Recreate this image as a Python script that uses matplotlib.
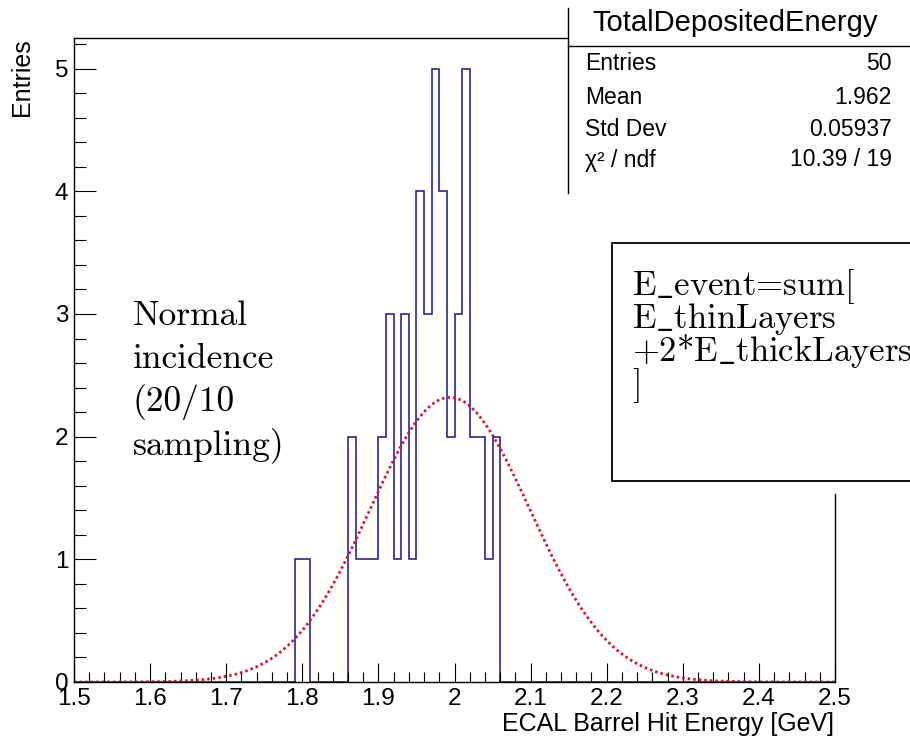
import numpy as np
import matplotlib
matplotlib.use("Agg")
import matplotlib.pyplot as plt
from matplotlib.patches import Rectangle
from matplotlib.lines import Line2D
from matplotlib.ticker import MultipleLocator, FuncFormatter

# histogram contents (bin low edge, entries); bins are 0.01 GeV wide, 1.5-2.5
bin_lo = [1.79, 1.80, 1.86, 1.87, 1.88, 1.89, 1.90, 1.91, 1.92, 1.93, 1.94,
          1.95, 1.96, 1.97, 1.98, 1.99, 2.00, 2.01, 2.02, 2.03, 2.04, 2.05]
counts = [1, 1, 2, 1, 1, 1, 2, 3, 1, 3, 1, 4, 3, 5, 4, 2, 3, 5, 2, 2, 1, 2]

# gaus fit parameters as drawn
fit_const = 2.32
fit_mean = 1.994
fit_sigma = 0.105

stats_labels = ["Entries", "Mean", "Std Dev", "\u03c7\u00b2 / ndf"]
stats_values = ["50", "1.962", "0.05937", "10.39 / 19"]

note_lines = ["Normal", "incidence", "(20/10", "sampling)"]
# "$\_$" so the underscore comes from mathtext (cmr10 has a dot accent there)
formula_lines = [r"E$\_$event=sum[", r"E$\_$thinLayers",
                 r"+2*E$\_$thickLayers", "]"]

W, H = 910, 740
sans = ["Liberation Sans", "DejaVu Sans"]
serif = ["cmr10", "DejaVu Serif"]
plt.rcParams["font.family"] = sans
plt.rcParams["axes.unicode_minus"] = False
plt.rcParams["mathtext.fontset"] = "cm"

def fx(px):
    return px / W

def fy(py):
    return 1 - py / H

fig = plt.figure(figsize=(W / 100, H / 100), dpi=100)
ax = fig.add_axes([fx(74), fy(682), fx(835) - fx(74), fy(38) - fy(682)])

edges = np.linspace(1.5, 2.5, 101)
h = np.zeros(100)
for lo, c in zip(bin_lo, counts):
    h[int(round((lo - 1.5) / 0.01))] = c
ax.stairs(h, edges, color="#15158c", lw=1.1)

xf = np.linspace(1.5, 2.5, 600)
yf = fit_const * np.exp(-0.5 * ((xf - fit_mean) / fit_sigma) ** 2)
ax.plot(xf, yf, color="#dd1126", lw=2.0, ls=(0, (0.9, 1.1)))

ax.set_xlim(1.5, 2.5)
ax.set_ylim(0, 5.25)
ax.xaxis.set_major_locator(MultipleLocator(0.1))
ax.xaxis.set_minor_locator(MultipleLocator(0.02))
ax.yaxis.set_major_locator(MultipleLocator(1))
ax.yaxis.set_minor_locator(MultipleLocator(0.2))
fmt = FuncFormatter(lambda v, p: "%g" % round(v, 3))
ax.xaxis.set_major_formatter(fmt)
ax.yaxis.set_major_formatter(fmt)
ax.tick_params(which="both", direction="in", top=False, right=False,
               width=0.8, color="black", labelsize=17.5)
ax.tick_params(axis="x", which="major", length=14, pad=4)
ax.tick_params(axis="x", which="minor", length=7)
ax.tick_params(axis="y", which="major", length=16, pad=4)
ax.tick_params(axis="y", which="minor", length=8.5)
for s in ax.spines.values():
    s.set_linewidth(1.0)
ax.spines["right"].set_bounds(0, 1.53)

fig.text(fx(834), fy(724), "ECAL Barrel Hit Energy [GeV]", ha="right",
         va="center", fontsize=18)
fig.text(fx(22), fy(38), "Entries", rotation=90, ha="center", va="top",
         fontsize=18)

# stats box
fig.add_artist(Rectangle((fx(567.7), fy(193)), fx(920) - fx(567.7),
                         fy(8) - fy(193), transform=fig.transFigure,
                         facecolor="white", edgecolor="none", zorder=5))
fig.add_artist(Line2D([fx(567.7), fx(567.7)], [fy(8), fy(193)],
                      transform=fig.transFigure, color="black", lw=1.0, zorder=6))
fig.add_artist(Line2D([fx(567.7), fx(910)], [fy(45.7), fy(45.7)],
                      transform=fig.transFigure, color="black", lw=1.0, zorder=6))
fig.text(fx(735.5), fy(23), "TotalDepositedEnergy", ha="center", va="center",
         fontsize=21, zorder=7)
row_y = [64, 97, 129, 160]
for lab, val, ry in zip(stats_labels, stats_values, row_y):
    fig.text(fx(585), fy(ry), lab, ha="left", va="center", fontsize=16.5, zorder=7)
    fig.text(fx(892), fy(ry), val, ha="right", va="center", fontsize=16.5, zorder=7)

# formula box
fig.add_artist(Rectangle((fx(612), fy(481)), fx(930) - fx(612),
                         fy(243) - fy(481), transform=fig.transFigure,
                         facecolor="white", edgecolor="black", lw=1.3, zorder=5))
for line, by in zip(formula_lines, [295, 328, 361, 394]):
    fig.text(fx(632), fy(by), line, ha="left", va="baseline", fontsize=25,
             family=serif, zorder=7)

for line, by in zip(note_lines, [325, 368, 411, 454]):
    fig.text(fx(133), fy(by), line, ha="left", va="baseline", fontsize=25.5,
             family=serif, zorder=7)

fig.savefig("out.png", dpi=100)
